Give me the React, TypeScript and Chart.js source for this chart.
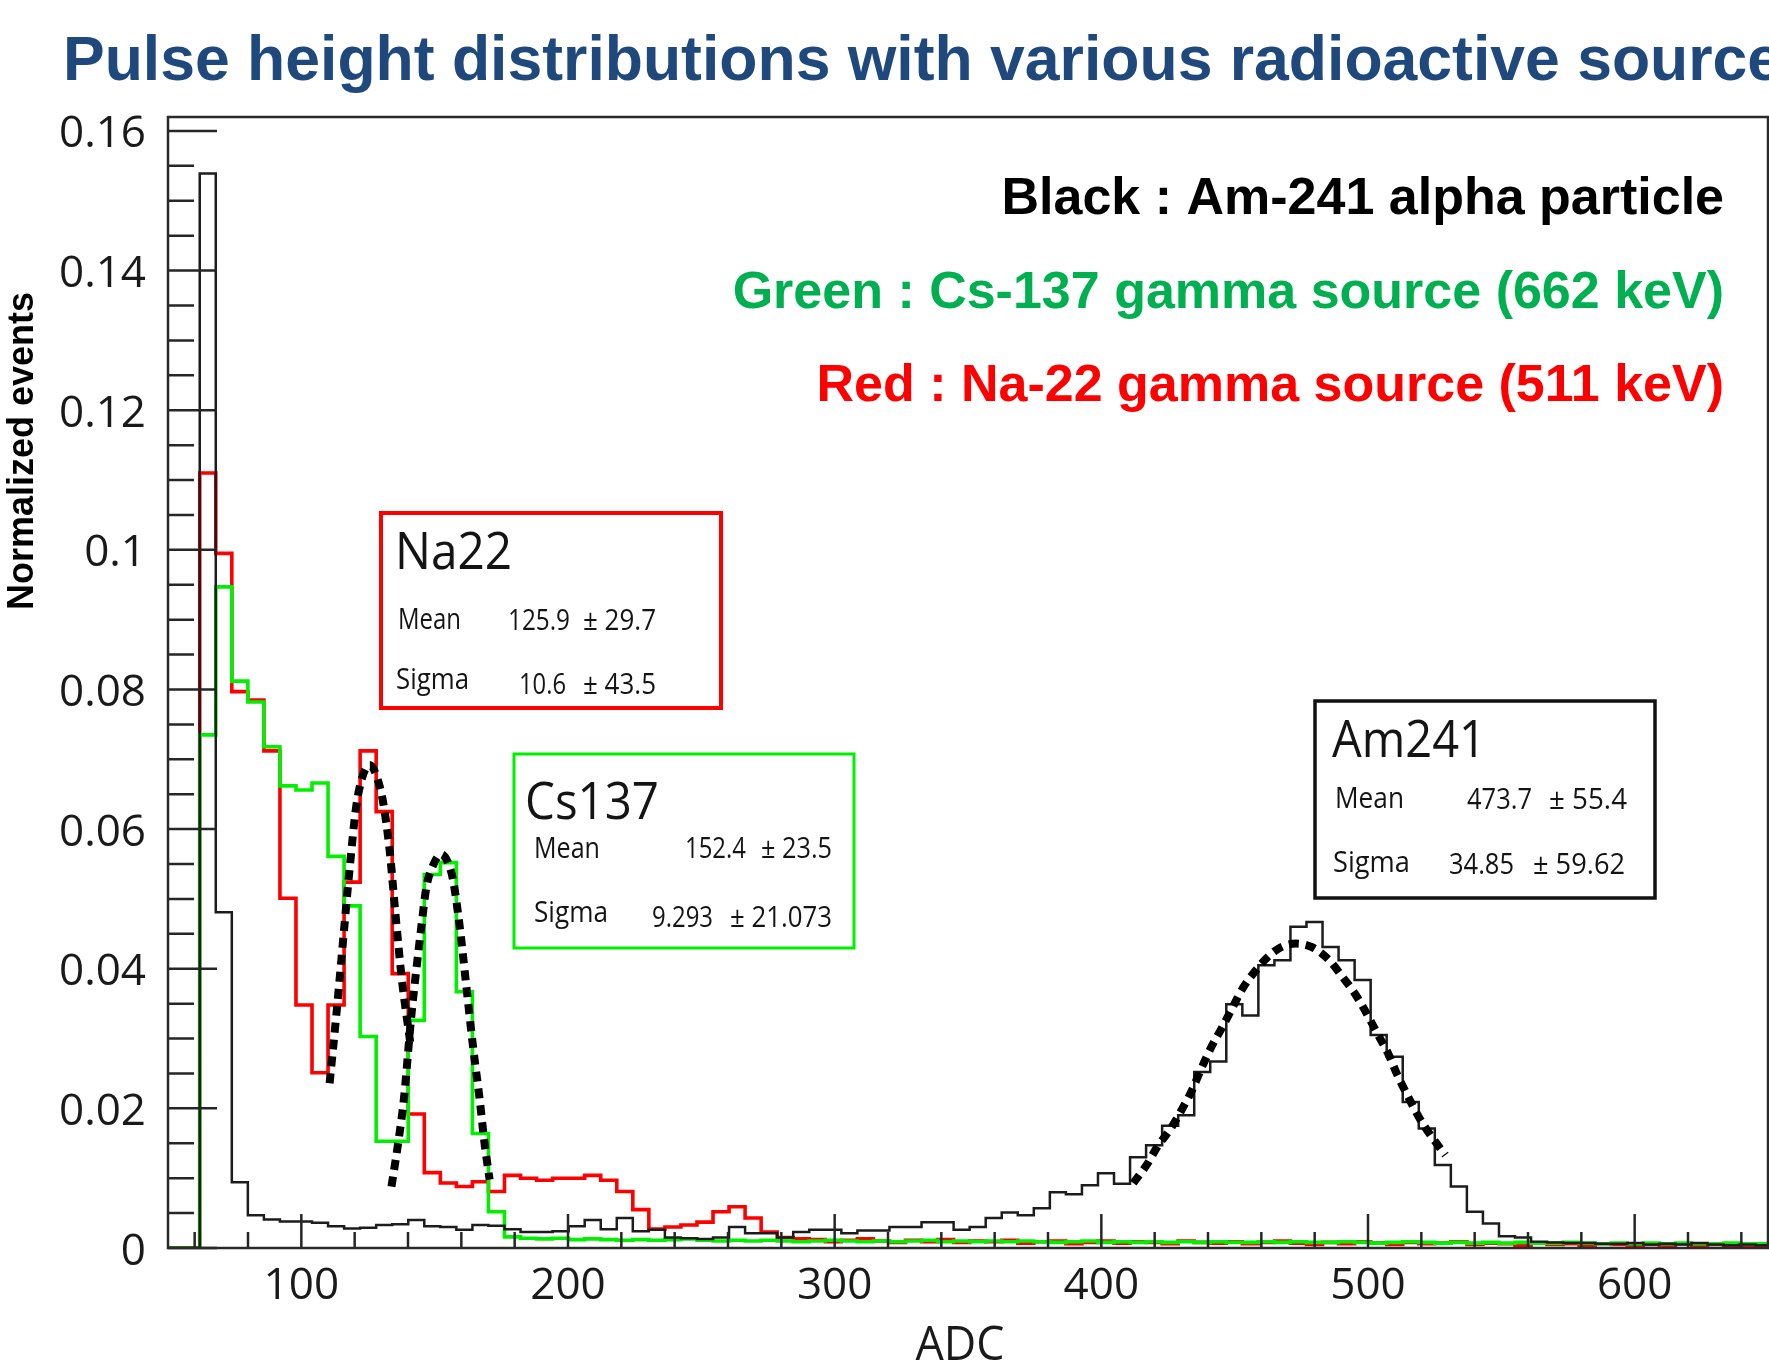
import React, { useEffect, useRef } from "react";
import { Chart, registerables } from "chart.js";

Chart.register(...registerables);

// ---------------- data ----------------
const ADC_MIN = 50;
const ADC_MAX = 650;
const Y_MAX = 0.162;
const BIN_START = 61.9; // ADC of the first non-empty bin edge
const BIN_WIDTH = 6.015; // ADC per bin

const xTickValues = [100, 200, 300, 400, 500, 600];
const yTickValues = [0, 0.02, 0.04, 0.06, 0.08, 0.1, 0.12, 0.14, 0.16];

// Black : Am-241 alpha particle (normalized events per bin)
const am241Counts = [
  0.1539, 0.0481, 0.0094, 0.0047, 0.0041, 0.0038, 0.0038, 0.0036, 0.0031, 0.0028,
  0.0029, 0.0033, 0.0034, 0.0040, 0.0031, 0.0030, 0.0026, 0.0033, 0.0032, 0.0027,
  0.0023, 0.0023, 0.0024, 0.0031, 0.0040, 0.0027, 0.0043, 0.0024, 0.0026, 0.0015,
  0.0014, 0.0013, 0.0015, 0.0030, 0.0021, 0.0021, 0.0015, 0.0023, 0.0026, 0.0026,
  0.0021, 0.0025, 0.0025, 0.0030, 0.0030, 0.0037, 0.0037, 0.0026, 0.0030, 0.0043,
  0.0051, 0.0047, 0.0057, 0.0080, 0.0077, 0.0090, 0.0107, 0.0092, 0.0130, 0.0147,
  0.0175, 0.0190, 0.0252, 0.0267, 0.0349, 0.0333, 0.0405, 0.0412, 0.0460, 0.0467,
  0.0431, 0.0412, 0.0384, 0.0305, 0.0274, 0.0209, 0.0171, 0.0119, 0.0088, 0.0052,
  0.0035, 0.0017, 0.0015, 0.0009, 0.0008, 0.0007, 0.0007, 0.0006, 0.0006, 0.0007,
  0.0005, 0.0006, 0.0005, 0.0007, 0.0005, 0.0004, 0.0005, 0.0004,
];

// Green : Cs-137 gamma source
const cs137Counts = [
  0.0735, 0.0947, 0.0812, 0.0782, 0.0718, 0.0662, 0.0656, 0.0666, 0.0561, 0.0490,
  0.0303, 0.0153, 0.0153, 0.0326, 0.0535, 0.0552, 0.0367, 0.0164, 0.0052, 0.0016,
  0.0014, 0.0013, 0.0014, 0.0012, 0.0013, 0.0012, 0.0011, 0.0012, 0.0011, 0.0012,
  0.0013, 0.0011, 0.0010, 0.0011, 0.0010, 0.0011, 0.0010, 0.0009, 0.0010, 0.0011,
  0.0010, 0.0009, 0.0010, 0.0009, 0.0010, 0.0011, 0.0009, 0.0010, 0.0009, 0.0010,
  0.0009, 0.0010, 0.0009, 0.0008, 0.0009, 0.0010, 0.0008, 0.0009, 0.0008, 0.0009,
  0.0008, 0.0009, 0.0008, 0.0009, 0.0008, 0.0008, 0.0009, 0.0008, 0.0009, 0.0008,
  0.0008, 0.0009, 0.0008, 0.0007, 0.0008, 0.0009, 0.0008, 0.0007, 0.0008, 0.0007,
  0.0008, 0.0007, 0.0008, 0.0007, 0.0007, 0.0008, 0.0007, 0.0006, 0.0007, 0.0006,
  0.0007, 0.0006, 0.0007, 0.0006, 0.0006, 0.0007, 0.0006, 0.0006,
];

// Red : Na-22 gamma source
const na22Counts = [
  0.1110, 0.0995, 0.0797, 0.0785, 0.0712, 0.0501, 0.0348, 0.0251, 0.0348, 0.0524,
  0.0712, 0.0625, 0.0393, 0.0192, 0.0108, 0.0093, 0.0088, 0.0095, 0.0081, 0.0104,
  0.0100, 0.0097, 0.0100, 0.0100, 0.0104, 0.0097, 0.0081, 0.0055, 0.0027, 0.0030,
  0.0033, 0.0037, 0.0052, 0.0059, 0.0043, 0.0023, 0.0015, 0.0013, 0.0012, 0.0009,
  0.0011, 0.0013, 0.0010, 0.0008, 0.0011, 0.0009, 0.0012, 0.0008, 0.0010, 0.0009,
  0.0011, 0.0007, 0.0009, 0.0010, 0.0006, 0.0008, 0.0010, 0.0007, 0.0009, 0.0008,
  0.0006, 0.0010, 0.0008, 0.0007, 0.0009, 0.0006, 0.0008, 0.0010, 0.0007, 0.0005,
  0.0008, 0.0006, 0.0009, 0.0007, 0.0005, 0.0008, 0.0006, 0.0007, 0.0009, 0.0005,
  0.0007, 0.0006, 0.0004, 0.0007, 0.0005, 0.0006, 0.0004, 0.0006, 0.0005, 0.0003,
  0.0005, 0.0004, 0.0006, 0.0003, 0.0005, 0.0004, 0.0003, 0.0004,
];

// Gaussian fit curves (dotted)
const na22FitAdc = [110.6, 113.1, 115.6, 118.1, 120.6, 123.1, 125.7, 128.1, 130.6, 133.1, 135.4, 137.6, 141.0];
const na22FitVal = [0.0236, 0.0333, 0.0438, 0.0543, 0.0633, 0.0677, 0.0692, 0.0677, 0.0640, 0.0570, 0.0474, 0.0388, 0.0290];

const cs137FitAdc = [133.8, 136.3, 138.5, 141.2, 143.1, 145.0, 146.9, 149.4, 152.4, 155.0, 156.9, 159.4, 161.9, 164.4, 166.9, 168.7, 170.6];
const cs137FitVal = [0.0088, 0.0150, 0.0215, 0.0331, 0.0398, 0.0460, 0.0517, 0.0548, 0.0564, 0.0552, 0.0527, 0.0460, 0.0374, 0.0288, 0.0212, 0.0150, 0.0098];

const am241FitAdc = [412, 417, 421, 426, 430, 434, 437.5, 441, 445, 449, 453, 458, 463, 468, 473, 479, 485.5, 490.5, 495, 499.5, 503.5, 507.5, 511, 515, 519, 523, 529];
const am241FitVal = [0.0093, 0.0119, 0.0145, 0.0171, 0.0197, 0.0226, 0.0257, 0.0286, 0.0314, 0.0343, 0.0372, 0.0398, 0.0419, 0.0432, 0.0436, 0.0431, 0.0412, 0.0388, 0.0365, 0.0336, 0.0307, 0.0279, 0.0248, 0.0217, 0.0188, 0.0164, 0.0133];

// Text content
const titleText = "Pulse height distributions with various radioactive source";
const yAxisTitle = "Normalized events";
const xAxisTitle = "ADC";
const legendTexts = [
  "Black : Am-241 alpha particle",
  "Green : Cs-137 gamma source (662 keV)",
  "Red : Na-22 gamma source (511 keV)",
];
const statNames = ["Na22", "Cs137", "Am241"];
const statMeans = ["125.9", "152.4", "473.7"];
const statMeanErrs = ["\u00b1 29.7", "\u00b1 23.5", "\u00b1 55.4"];
const statSigmas = ["10.6", "9.293", "34.85"];
const statSigmaErrs = ["\u00b1 43.5", "\u00b1 21.073", "\u00b1 59.62"];

// ---------------- styles / layout ----------------
const ROOT_FONT = "'Open Sans', 'Noto Sans', sans-serif";
const BOLD_FONT = "'Liberation Sans', Arial, sans-serif";
const TITLE_COLOR = "#1F497D";
const legendColors = ["#000000", "#00B050", "#FF0000"];
const RED = "#ff0000";
const GREEN = "#00f000";
const BLACK = "#1c1c1c";

// box layouts (canvas pixels)
const statLayouts = [
  {
    box: [381, 513, 340, 195], stroke: RED, lw: 4,
    title: [395, 569, 117],
    meanLabel: [398, 629, 63], meanVal: [570, 630, 62], meanErr: [583, 630, 73],
    sigmaLabel: [396, 689, 73], sigmaVal: [566, 694, 47], sigmaErr: [583, 694, 73],
  },
  {
    box: [514, 754, 340, 194], stroke: GREEN, lw: 3,
    title: [525, 819, 134],
    meanLabel: [534, 858, 66], meanVal: [746, 858, 61], meanErr: [761, 858, 71],
    sigmaLabel: [534, 922, 74], sigmaVal: [713, 927, 61], sigmaErr: [730, 927, 102],
  },
  {
    box: [1315, 701, 340, 197], stroke: "#111111", lw: 3.5,
    title: [1332, 757, 154],
    meanLabel: [1335, 808, 69], meanVal: [1532, 809, 65], meanErr: [1549, 809, 78],
    sigmaLabel: [1333, 872, 77], sigmaVal: [1514, 874, 65], sigmaErr: [1533, 874, 92],
  },
];

function histPoints(counts: number[]) {
  const pts: { x: number; y: number }[] = [{ x: ADC_MIN, y: 0 }];
  counts.forEach((v, k) => pts.push({ x: BIN_START + k * BIN_WIDTH, y: v }));
  pts.push({ x: BIN_START + counts.length * BIN_WIDTH, y: counts[counts.length - 1] });
  return pts;
}

function fitPoints(xs: number[], ys: number[]) {
  return xs.map((x, i) => ({ x, y: ys[i] }));
}

function drawText(
  ctx: CanvasRenderingContext2D,
  text: string,
  x: number,
  y: number,
  font: string,
  color: string,
  align: CanvasTextAlign,
  maxWidth?: number
) {
  ctx.font = font;
  ctx.fillStyle = color;
  ctx.textAlign = align;
  ctx.textBaseline = "alphabetic";
  if (maxWidth) ctx.fillText(text, x, y, maxWidth);
  else ctx.fillText(text, x, y);
}

const overlayPlugin = {
  id: "overlay",
  afterDraw(chart: any) {
    const ctx: CanvasRenderingContext2D = chart.ctx;
    const { left, right, top, bottom } = chart.chartArea;
    const xs = chart.scales.x;
    const ys = chart.scales.y;
    ctx.save();

    // inward ROOT-style ticks
    ctx.strokeStyle = "#262626";
    ctx.lineWidth = 2.5;
    ctx.beginPath();
    for (let i = 0; i <= 32; i++) {
      const py = ys.getPixelForValue(i * 0.005);
      const len = i % 4 === 0 ? 49 : 26;
      ctx.moveTo(left, py);
      ctx.lineTo(left + len, py);
    }
    for (let a = 60; a <= 640; a += 20) {
      const px = xs.getPixelForValue(a);
      const len = a % 100 === 0 ? 34 : 16;
      ctx.moveTo(px, bottom);
      ctx.lineTo(px, bottom - len);
    }
    ctx.stroke();

    // frame
    ctx.strokeStyle = "#2a2a2a";
    ctx.lineWidth = 2.5;
    ctx.strokeRect(left, top, right - left, bottom - top);

    // main title
    drawText(ctx, titleText, 63, 80, `bold 62.5px ${BOLD_FONT}`, TITLE_COLOR, "left");

    // legend texts
    const legendY = [214, 308, 401];
    legendTexts.forEach((t, i) =>
      drawText(ctx, t, 1724, legendY[i], `bold 52px ${BOLD_FONT}`, legendColors[i], "right")
    );

    // y axis title
    ctx.save();
    ctx.translate(33, 451);
    ctx.rotate(-Math.PI / 2);
    drawText(ctx, yAxisTitle, 0, 0, `bold 36px ${BOLD_FONT}`, "#000000", "center", 318);
    ctx.restore();

    // x axis title
    drawText(ctx, xAxisTitle, 960, 1360, `47px ${ROOT_FONT}`, "#1a1a1a", "center", 89);

    // stat boxes
    statLayouts.forEach((L, i) => {
      const [bx, by, bw, bh] = L.box;
      ctx.fillStyle = "#ffffff";
      ctx.fillRect(bx, by, bw, bh);
      ctx.strokeStyle = L.stroke;
      ctx.lineWidth = L.lw;
      ctx.strokeRect(bx, by, bw, bh);
      const big = `52px ${ROOT_FONT}`;
      const small = `29px ${ROOT_FONT}`;
      const c = "#141414";
      drawText(ctx, statNames[i], L.title[0], L.title[1], big, c, "left", L.title[2]);
      drawText(ctx, "Mean", L.meanLabel[0], L.meanLabel[1], small, c, "left", L.meanLabel[2]);
      drawText(ctx, statMeans[i], L.meanVal[0], L.meanVal[1], small, c, "right", L.meanVal[2]);
      drawText(ctx, statMeanErrs[i], L.meanErr[0], L.meanErr[1], small, c, "left", L.meanErr[2]);
      drawText(ctx, "Sigma", L.sigmaLabel[0], L.sigmaLabel[1], small, c, "left", L.sigmaLabel[2]);
      drawText(ctx, statSigmas[i], L.sigmaVal[0], L.sigmaVal[1], small, c, "right", L.sigmaVal[2]);
      drawText(ctx, statSigmaErrs[i], L.sigmaErr[0], L.sigmaErr[1], small, c, "left", L.sigmaErr[2]);
    });

    ctx.restore();
  },
};

export default function App() {
  const canvasRef = useRef<HTMLCanvasElement | null>(null);

  useEffect(() => {
    if (!canvasRef.current) return;
    const histStyle = {
      pointRadius: 0,
      fill: false,
      stepped: "before" as const,
      borderJoinStyle: "miter" as const,
    };
    const fitStyle = {
      pointRadius: 0,
      fill: false,
      borderColor: "#000000",
      borderWidth: 8,
      borderDash: [10, 7],
      tension: 0.4,
      cubicInterpolationMode: "monotone" as const,
      order: 0,
    };
    const chart = new Chart(canvasRef.current, {
      type: "line",
      data: {
        datasets: [
          { label: "Na22", data: histPoints(na22Counts), borderColor: RED, borderWidth: 3.6, order: 4, ...histStyle },
          { label: "Cs137", data: histPoints(cs137Counts), borderColor: GREEN, borderWidth: 3.6, order: 3, ...histStyle },
          { label: "Am241", data: histPoints(am241Counts), borderColor: BLACK, borderWidth: 2.5, order: 2, ...histStyle },
          { label: "Na22 fit", data: fitPoints(na22FitAdc, na22FitVal), ...fitStyle },
          { label: "Cs137 fit", data: fitPoints(cs137FitAdc, cs137FitVal), ...fitStyle },
          { label: "Am241 fit", data: fitPoints(am241FitAdc, am241FitVal), ...fitStyle },
        ] as any,
      },
      options: {
        responsive: false,
        animation: false,
        devicePixelRatio: 1,
        events: [],
        layout: { padding: { top: 117, right: 1, left: 0, bottom: 0 } },
        plugins: {
          legend: { display: false },
          tooltip: { enabled: false },
          title: { display: false },
        },
        scales: {
          x: {
            type: "linear",
            min: ADC_MIN,
            max: ADC_MAX,
            grid: { display: false, drawTicks: false },
            border: { display: false },
            afterBuildTicks: (scale: any) => {
              scale.ticks = xTickValues.map((v) => ({ value: v }));
            },
            afterFit: (scale: any) => {
              scale.height = 119;
            },
            ticks: {
              maxRotation: 0,
              autoSkip: false,
              padding: 12,
              color: "#1a1a1a",
              font: { family: ROOT_FONT, size: 44 },
              callback: (v: any) => String(v),
            },
          },
          y: {
            type: "linear",
            min: 0,
            max: Y_MAX,
            grid: { display: false, drawTicks: false },
            border: { display: false },
            afterBuildTicks: (scale: any) => {
              scale.ticks = yTickValues.map((v) => ({ value: v }));
            },
            afterFit: (scale: any) => {
              scale.width = 168;
            },
            ticks: {
              autoSkip: false,
              padding: 22,
              labelOffset: 4,
              color: "#1a1a1a",
              font: { family: ROOT_FONT, size: 44 },
              callback: (v: any) => {
                const n = Number(v);
                return n === 0 ? "0" : String(parseFloat(n.toFixed(3)));
              },
            },
          },
        },
      },
      plugins: [overlayPlugin],
    } as any);
    return () => chart.destroy();
  }, []);

  return (
    <div
      style={{
        position: "fixed",
        left: 0,
        top: 0,
        width: 1769,
        height: 1367,
        background: "#ffffff",
        overflow: "hidden",
      }}
    >
      <canvas ref={canvasRef} width={1769} height={1367} style={{ display: "block" }} />
    </div>
  );
}
